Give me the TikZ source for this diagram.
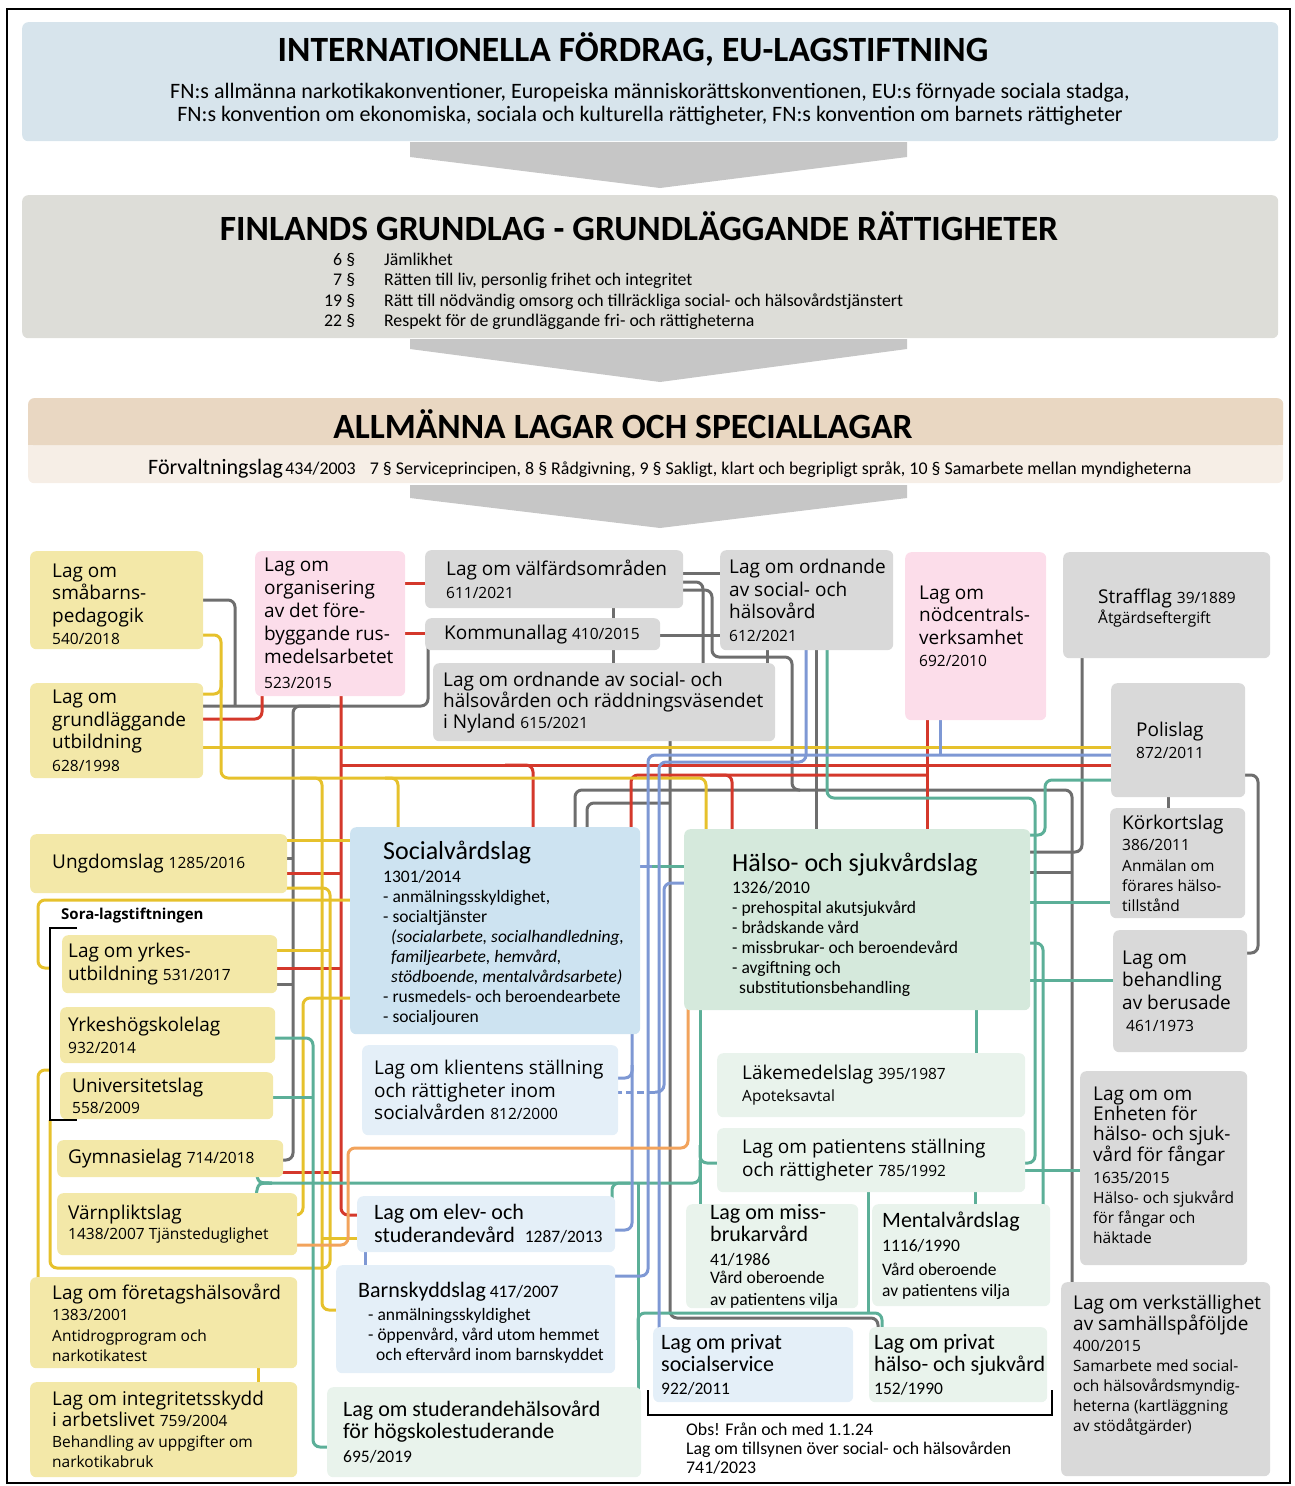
\documentclass[tikz,border=0pt]{standalone}
\usepackage{fontspec}
\setmainfont{Carlito}
\newfontfamily\osans{Open Sans}
\usepackage{tikz}
\usetikzlibrary{backgrounds}

\definecolor{intlblue}{HTML}{D7E4EC}
\definecolor{grundgray}{HTML}{DDDDD8}
\definecolor{allmtan}{HTML}{E9D7C2}
\definecolor{allmlight}{HTML}{F6EEE6}
\definecolor{pilgray}{HTML}{C6C6C6}
\definecolor{yfill}{HTML}{F3E8A8}
\definecolor{pfill}{HTML}{FCDDEA}
\definecolor{gfill}{HTML}{D9D9D9}
\definecolor{bfill}{HTML}{CDE3F1}
\definecolor{blight}{HTML}{E4EFF8}
\definecolor{hfill}{HTML}{D5E9DC}
\definecolor{hlight}{HTML}{E9F3EC}
\definecolor{lyel}{HTML}{E6C12C}
\definecolor{lred}{HTML}{D4382B}
\definecolor{lgry}{HTML}{6E6E6E}
\definecolor{lblu}{HTML}{7E98D4}
\definecolor{ltea}{HTML}{5CAF98}
\definecolor{lora}{HTML}{F2A35C}

\newcommand{\sm}{\fontsize{15.5}{20}\selectfont}
\newcommand{\md}{\fontsize{17.5}{20}\selectfont}
\newcommand{\ttl}{\fontsize{35.5}{40}\selectfont\bfseries}

\begin{document}
\begin{tikzpicture}[
    x=1pt, y=-1pt,
    law/.style={rectangle, rounded corners=6pt, anchor=north west, inner sep=0pt},
    sz/.style 2 args={minimum width=#1, minimum height=#2},
    ybox/.style={law, fill=yfill},
    pbox/.style={law, fill=pfill},
    gbox/.style={law, fill=gfill},
    bbox/.style={law, fill=blight},
    hbox/.style={law, fill=hlight},
    otxt/.style={anchor=west, align=flush left, inner sep=0pt, font=\osans\fontsize{19}{22.5}\selectfont},
    ctxt/.style={anchor=west, align=flush left, inner sep=0pt, font=\fontsize{22}{22}\selectfont},
    headbox/.style={rectangle, rounded corners=6pt, anchor=north west, inner sep=0pt},
    link/.style={line width=3pt, rounded corners=7pt},
    yl/.style={link, draw=lyel},
    rl/.style={link, draw=lred},
    gl/.style={link, draw=lgry},
    bl/.style={link, draw=lblu},
    tl/.style={link, draw=ltea},
    ol/.style={link, draw=lora},
]
    \useasboundingbox (0,0) rectangle (1295,1486);

    % three levels on top
    \node[headbox, fill=intlblue, sz={1256}{119}] (intl) at (22,22) {};
    \node[font=\ttl] (intlT) at (633,49) {INTERNATIONELLA FÖRDRAG, EU-LAGSTIFTNING};
    \node[font=\fontsize{22}{23}\selectfont, align=center] (intlS) at (650,104) {FN:s allmänna narkotikakonventioner, Europeiska människorättskonventionen, EU:s förnyade sociala stadga,\\FN:s konvention om ekonomiska, sociala och kulturella rättigheter, FN:s konvention om barnets rättigheter};
    \fill[pilgray] (410,142) -- (907,142) -- (907,157) -- (660,188) -- (410,157) -- cycle;

    \node[headbox, fill=grundgray, sz={1256}{143}] (grl) at (22,195) {};
    \node[font=\ttl] (grlT) at (639,226) {FINLANDS GRUNDLAG - GRUNDLÄGGANDE RÄTTIGHETER};
    \node[anchor=north west, inner sep=0pt, font=\fontsize{17.8}{20.3}\selectfont] (grlL) at (324,251) {\begin{tabular}{@{}r@{\hspace{29pt}}l@{}}
        6 § & Jämlikhet\\
        7 § & Rätten till liv, personlig frihet och integritet\\
        19 § & Rätt till nödvändig omsorg och tillräckliga social- och hälsovårdstjänstert\\
        22 § & Respekt för de grundläggande fri- och rättigheterna
    \end{tabular}};
    \fill[pilgray] (410,339) -- (907,339) -- (907,349) -- (660,382) -- (410,349) -- cycle;

    \node[headbox, fill=allmlight, sz={1255}{85}] (allm) at (28,398) {};
    \node[headbox, fill=allmtan, sz={1255}{47}] (allmH) at (28,398) {};
    \fill[allmtan] (28,430) rectangle (1283,445);
    \node[font=\ttl] (allmT) at (623,424) {ALLMÄNNA LAGAR OCH SPECIALLAGAR};
    \node[anchor=base west, inner sep=0pt] (forv) at (148,474) {{\fontsize{22}{24}\selectfont Förvaltningslag} {\fontsize{17.9}{20}\selectfont 434/2003\hspace{14pt}7 § Serviceprincipen, 8 § Rådgivning, 9 § Sakligt, klart och begripligt språk, 10 § Samarbete mellan myndigheterna}};
    \fill[pilgray] (410,485) -- (907,485) -- (907,498) -- (660,528) -- (410,498) -- cycle;

    % yellow column
    \node[ybox, sz={173}{98}] (smab) at (30,551) {};
    \node[otxt] (smabT) at ([xshift=22, yshift=-4]smab.west) {Lag om\\småbarns-\\pedagogik\\\sm 540/2018};
    \node[ybox, sz={173}{95}] (grund) at (30,683) {};
    \node[otxt] (grundT) at ([xshift=22]grund.west) {Lag om\\grundläggande\\utbildning\\\sm 628/1998};
    \node[ybox, sz={257}{59}] (ungd) at (30,834) {};
    \node[otxt] (ungdT) at ([xshift=22]ungd.west) {Ungdomslag {\sm 1285/2016}};
    \node[ybox, sz={215}{58}] (yrkes) at (62,935) {};
    \node[otxt] (yrkesT) at ([xshift=6]yrkes.west) {Lag om yrkes-\\utbildning {\sm 531/2017}};
    \node[ybox, sz={215}{56}] (yhs) at (60,1007) {};
    \node[otxt] (yhsT) at ([xshift=8]yhs.west) {Yrkeshögskolelag\\\sm 932/2014};
    \node[ybox, sz={213}{47}] (univ) at (60,1072) {};
    \node[otxt] (univT) at ([xshift=12]univ.west) {Universitetslag\\[-2pt]\sm 558/2009};
    \node[ybox, sz={226}{37}] (gymn) at (57,1140) {};
    \node[otxt] (gymnT) at ([xshift=11]gymn.west) {Gymnasielag {\sm 714/2018}};
    \node[ybox, sz={240}{62}] (varn) at (57,1193) {};
    \node[otxt] (varnT) at ([xshift=11]varn.west) {Värnpliktslag\\[-2pt]\sm 1438/2007 Tjänsteduglighet};
    \node[ybox, sz={267}{91}] (foret) at (30,1277) {};
    \node[otxt] (foretT) at ([xshift=22]foret.west) {Lag om företagshälsovård\\[-1pt]\sm 1383/2001\\[-2pt]\sm Antidrogprogram och\\[-2.5pt]\sm narkotikatest};
    \node[ybox, sz={267}{95}] (integ) at (30,1382) {};
    \node[otxt] (integT) at ([xshift=22]integ.west) {Lag om integritetsskydd\\[-2pt]i arbetslivet {\sm 759/2004}\\[-1pt]\sm Behandling av uppgifter om\\[-2.5pt]\sm narkotikabruk};
    \node[anchor=west, inner sep=0pt, font=\osans\bfseries\fontsize{15}{18}\selectfont] (sora) at (61,916) {Sora-lagstiftningen};
    \draw[line width=1.5pt] (77,928) -- (50,928) -- (50,1120) -- (77,1120);
    \coordinate (soraM) at (50,968);
    \coordinate (soraC) at (50,1070);
    \coordinate (soraB) at (50,1120);

    % pink and grey boxes
    \node[pbox, sz={150}{145}] (orgn) at (255,551) {};
    \node[otxt, font=\osans\fontsize{19}{23}\selectfont] (orgnT) at ([xshift=9]orgn.west) {Lag om\\organisering\\av det före-\\byggande rus-\\medelsarbetet\\[2pt]\sm 523/2015};
    \node[pbox, sz={141}{168}] (nodc) at (905,552) {};
    \node[otxt] (nodcT) at ([xshift=14, yshift=10]nodc.west) {Lag om\\nödcentrals-\\verksamhet\\\sm 692/2010};
    \node[gbox, sz={258}{58}] (valf) at (425,550) {};
    \node[otxt] (valfT) at ([xshift=21]valf.west) {Lag om välfärdsområden\\\sm 611/2021};
    \node[gbox, sz={235}{32}] (komm) at (425,618) {};
    \node[otxt] (kommT) at ([xshift=19]komm.west) {Kommunallag {\sm 410/2015}};
    \node[gbox, sz={173}{100}] (ordn) at (720,550) {};
    \node[otxt] (ordnT) at ([xshift=9]ordn.west) {Lag om ordnande\\av social- och\\hälsovård\\\sm 612/2021};
    \node[gbox, sz={342}{78}] (nyla) at (433,663) {};
    \node[otxt, font=\osans\fontsize{19}{21}\selectfont] (nylaT) at ([xshift=10]nyla.west) {Lag om ordnande av social- och\\hälsovården och räddningsväsendet\\i Nyland {\sm 615/2021}};
    \node[gbox, sz={207}{106}] (straf) at (1063,552) {};
    \node[otxt] (strafT) at ([xshift=35, yshift=-3]straf.west) {Strafflag {\sm 39/1889}\\[-3pt]\sm Åtgärdseftergift};
    \node[gbox, sz={134}{114}] (poli) at (1111,683) {};
    \node[otxt] (poliT) at ([xshift=25]poli.west) {Polislag\\\sm 872/2011};
    \node[gbox, sz={135}{110}] (kork) at (1110,808) {};
    \node[otxt] (korkT) at ([xshift=12]kork.west) {Körkortslag\\[-1.5pt]\sm 386/2011\\[-2pt]\sm Anmälan om\\[-2.5pt]\sm förares hälso-\\[-2.5pt]\sm tillstånd};
    \node[gbox, sz={134}{122}] (beru) at (1113,930) {};
    \node[otxt] (beruT) at ([xshift=9]beru.west) {Lag om\\behandling\\av berusade\\\sm\ 461/1973};
    \node[gbox, sz={167}{194}] (enhet) at (1080,1071) {};
    \node[otxt, font=\osans\fontsize{19}{20}\selectfont] (enhetT) at ([xshift=13, yshift=3]enhet.west) {Lag om om\\Enheten för\\hälso- och sjuk-\\vård för fångar\\[2pt]\sm 1635/2015\\\sm Hälso- och sjukvård\\\sm för fångar och\\\sm häktade};
    \node[gbox, sz={209}{194}] (verk) at (1061,1282) {};
    \node[otxt, font=\osans\fontsize{19}{20}\selectfont] (verkT) at ([xshift=12, yshift=14]verk.west) {Lag om verkställighet\\av samhällspåföljde\\[1pt]\sm 400/2015\\\sm Samarbete med social-\\\sm och hälsovårdsmyndig-\\\sm heterna (kartläggning\\\sm av stödåtgärder)};

    % social care side
    \node[bbox, fill=bfill, sz={290}{207}] (socv) at (350,827) {};
    \node[ctxt, font=\md] (socvT) at ([xshift=33, yshift=-3]socv.west) {{\fontsize{26}{26}\selectfont Socialvårdslag}\\[3pt]1301/2014\\- anmälningsskyldighet,\\- socialtjänster\\\hspace*{8pt}\textit{(socialarbete, socialhandledning,}\\\hspace*{8pt}\textit{familjearbete, hemvård,}\\\hspace*{8pt}\textit{stödboende, mentalvårdsarbete)}\\- rusmedels- och beroendearbete\\- socialjouren};
    \node[bbox, sz={256}{90}] (klie) at (362,1045) {};
    \node[otxt] (klieT) at ([xshift=12]klie.west) {Lag om klientens ställning\\och rättigheter inom\\socialvården {\sm 812/2000}};
    \node[bbox, sz={258}{56}] (elev) at (357,1196) {};
    \node[ctxt, font=\fontsize{22}{23}\selectfont] (elevT) at ([xshift=17]elev.west) {Lag om elev- och\\studerandevård\hspace{10pt}{\md 1287/2013}};
    \node[bbox, sz={279}{108}] (barn) at (336,1265) {};
    \node[ctxt, font=\md] (barnT) at ([xshift=22, yshift=-4]barn.west) {{\fontsize{22}{22}\selectfont Barnskyddslag} 417/2007\\[3pt]\hspace*{10pt}- anmälningsskyldighet\\\hspace*{10pt}- öppenvård, vård utom hemmet\\\hspace*{18pt}och eftervård inom barnskyddet};
    \node[bbox, sz={200}{75}] (pso) at (653,1327) {};
    \node[ctxt] (psoT) at ([xshift=8]pso.west) {Lag om privat\\socialservice\\[1pt]\md 922/2011};

    % health care side
    \node[hbox, fill=hfill, sz={346}{181}] (hsl) at (684,829) {};
    \node[ctxt, font=\md] (hslT) at ([xshift=48, yshift=-5]hsl.west) {{\fontsize{26}{26}\selectfont Hälso- och sjukvårdslag}\\[2pt]1326/2010\\- prehospital akutsjukvård\\- brådskande vård\\- missbrukar- och beroendevård\\- avgiftning och\\\hspace*{7pt}substitutionsbehandling};
    \node[hbox, sz={308}{64}] (lake) at (717,1053) {};
    \node[otxt] (lakeT) at ([xshift=25]lake.west) {Läkemedelslag {\sm 395/1987}\\[-1pt]\sm Apoteksavtal};
    \node[hbox, sz={308}{64}] (pati) at (717,1128) {};
    \node[otxt] (patiT) at ([xshift=25]pati.west) {Lag om patientens ställning\\och rättigheter {\sm 785/1992}};
    \node[hbox, sz={172}{104}] (miss) at (686,1204) {};
    \node[ctxt] (missT) at ([xshift=24]miss.west) {Lag om miss-\\brukarvård\\[2pt]\md 41/1986\\[-4pt]\md Vård oberoende\\\md av patientens vilja};
    \node[hbox, sz={178}{102}] (ment) at (872,1204) {};
    \node[ctxt] (mentT) at ([xshift=10]ment.west) {Mentalvårdslag\\[2pt]\md 1116/1990\\[2pt]\md Vård oberoende\\[-1pt]\md av patientens vilja};
    \node[hbox, sz={178}{75}] (psh) at (869,1327) {};
    \node[ctxt] (pshT) at ([xshift=5]psh.west) {Lag om privat\\hälso- och sjukvård\\[1pt]\md 152/1990};
    \node[hbox, sz={314}{90}] (stud) at (327,1387) {};
    \node[ctxt] (studT) at ([xshift=16]stud.west) {Lag om studerandehälsovård\\för högskolestuderande\\[2pt]\md 695/2019};

    \draw[line width=1.5pt] (648,1390) -- (648,1415) -- (1052,1415) -- (1052,1390);
    \node[anchor=north west, inner sep=0pt, align=left, font=\fontsize{17.8}{19}\selectfont] (obs) at (686,1423) {Obs! Från och med 1.1.24\\Lag om tillsynen över social- och hälsovården\\741/2023};

    \begin{pgfonlayer}{background}
    % grey lines
    \draw[gl] (smab.center |- 0,600) -- (235,600) -- (235,706);
    \draw[gl] (grund.center |- 0,706) -- (428,706) -- (komm.center -| 428,0);
    \draw[gl] (330,706) -| (293,1160) -- (gymn.center |- 0,1160);
    \draw[gl] (ungd.center |- 0,858) -- (293,858);
    \draw[gl] (yrkes.center |- 0,984) -- (293,984);
    \draw[gl] (valf.center |- 0,573) -- (ordn.center |- 0,573);
    \draw[gl] (valf.center -| 613,0) -- (nyla.center -| 613,0);
    \draw[gl] (komm.center |- 0,635) -- (ordn.center |- 0,635);
    \draw[gl] (valf.center |- 0,582) -- (703,582) -- (nyla.center -| 703,0);
    \draw[gl] (valf.center |- 0,590) -- (712,590) -- (712,657) -- (792,657) -- (792,790) -- (1072,790) -- (verk.center -| 1072,0);
    \draw[gl] (ordn.center -| 767,0) -- (767,668);
    \draw[gl] (ordn.center -| 816,0) -- (hsl.center -| 816,0);
    \draw[gl] (socv.center -| 575,0) -- (575,790) -- (800,790);
    \draw[gl] (nyla.center -| 670,0) -- (670,1318) -- (878,1318) -- (psh.center -| 878,0);
    \draw[gl] (socv.center -| 587,0) -- (587,803) -- (670,803);
    \draw[gl] (straf.center -| 1082,0) -- (1082,852) -- (hsl.center |- 0,852);
    \draw[gl] (hsl.center |- 0,872) -- (1072,872);
    \draw[gl] (poli.center |- 0,775) -- (1258,775) -- (1258,953) -- (beru.center |- 0,953);
    \draw[gl] (poli.center -| 1168,0) -- (kork.center -| 1168,0);

    % red lines
    \draw[rl] (orgn.center |- 0,583) -- (valf.center |- 0,583);
    \draw[rl] (orgn.center |- 0,633) -- (komm.center |- 0,633);
    \draw[rl] (grund.center |- 0,719) -- (262,719) -- (orgn.center -| 262,0);
    \draw[rl] (orgn.center -| 341,0) -- (341,1215) -- (elev.center |- 0,1215);
    \draw[rl] (341,765) -- (poli.center |- 0,765);
    \draw[rl] (505,765) -- (533,765) -- (socv.center -| 533,0);
    \draw[rl] (socv.center -| 631,0) -- (631,775) -- (927,775);
    \draw[rl] (nodc.center -| 927,0) -- (hsl.center -| 927,0);
    \draw[rl] (710,775) -- (732,775) -- (hsl.center -| 732,0);
    \draw[rl] (ungd.center |- 0,873) -- (341,873);
    \draw[rl] (yrkes.center |- 0,968) -- (341,968);
    \draw[rl] (gymn.center |- 0,1172) -- (341,1172);

    % yellow lines
    \draw[yl] (smab.center |- 0,635) -- (221,635) -- (221,694) -- (grund.center |- 0,694);
    \draw[yl] (221,680) -- (221,778) -- (706,778) -- (hsl.center -| 706,0);
    \draw[yl] (300,778) -- (322,778) -- (322,1310) -- (barn.center |- 0,1310);
    \draw[yl] (385,778) -- (398,778) -- (socv.center -| 398,0);
    \draw[yl] (322,1238) -- (elev.center |- 0,1238);
    \draw[yl] (grund.center |- 0,747) -- (poli.center |- 0,747);
    \draw[yl] (socv.center |- 0,840) -- (ungd.center |- 0,840);
    \draw[yl] (socv.center |- 0,900) -- (38,900) -- (38,968) -- (soraM);
    \draw[yl] (socv.center |- 0,998) -- (303,998) -- (303,1215) -- (varn.center |- 0,1215);
    \draw[yl] (ungd.center |- 0,888) -- (330,888) -- (330,1268) -- (50,1268) -- (soraB);
    \draw[yl] (yrkes.center |- 0,950) -- (330,950);
    \draw[yl] (foret.center -| 38,0) -- (38,1070) -- (soraC);
    \draw[yl] (foret.center -| 258,0) -- (integ.center -| 258,0);

    % teal lines
    \draw[tl] (ordn.center -| 827,0) -- (827,798) -- (1035,798) -- (1035,1163) -- (pati.center |- 0,1163);
    \draw[tl] (poli.center |- 0,780) -- (1045,780) -- (1045,835) -- (hsl.center |- 0,835);
    \draw[tl] (hsl.center |- 0,902) -- (kork.center |- 0,902);
    \draw[tl] (hsl.center |- 0,943) -- (1043,943) -- (ment.center -| 1043,0);
    \draw[tl] (hsl.center |- 0,980) -- (beru.center |- 0,980);
    \draw[tl] (pati.center |- 0,1170) -- (enhet.center |- 0,1170);
    \draw[tl] (652,866) -- (hsl.center |- 0,866);
    \draw[tl] (hsl.center -| 700,0) -- (miss.center -| 700,0);
    \draw[tl] (hsl.center -| 976,0) -- (lake.center -| 976,0);
    \draw[tl] (pati.center -| 975,0) -- (ment.center -| 975,0);
    \draw[tl] (700,1145) |- (pati.center |- 0,1163);
    \draw[tl] (700,1160) |- (262,1183);
    \draw[tl] (272,1183) .. controls (258,1183) .. (256,1170);
    \draw[tl] (272,1183) .. controls (258,1183) .. (256,1196);
    \draw[tl] (yhs.center |- 0,1038) -- (313,1038) -- (313,1447) -- (stud.center |- 0,1447);
    \draw[tl] (univ.center |- 0,1097) -- (313,1097);
    \draw[tl] (638,1183) -- (stud.center -| 638,0);
    \draw[tl] (638,1340) -- (638,1313) -- (882,1313) -- (psh.center -| 882,0);
    \draw[tl] (pati.center -| 868,0) -- (868,1313);
    \draw[tl] (elev.center -| 612,0) |- (630,1183);

    % blue lines
    \draw[bl] (socv.center |- 0,866) -- (652,866);
    \draw[bl] (poli.center |- 0,755) -- (648,755) -- (648,1276) -- (barn.center |- 0,1276);
    \draw[bl] (ordn.center -| 806,0) -- (806,762) -- (659,762) -- (pso.center -| 659,0);
    \draw[bl] (nodc.center -| 940,0) -- (940,755);
    \draw[bl] (socv.center -| 632,0) -- (632,1230) -- (elev.center |- 0,1230);
    \draw[bl] (632,1065) |- (klie.center |- 0,1078);
    \draw[bl] (hsl.center |- 0,883) -- (664,883) -- (664,1092) -- (655,1092);
    \draw[bl, dash pattern=on 7pt off 4pt] (655,1092) -- (klie.center |- 0,1092);
    \draw[bl] (elev.center -| 365,0) -- (barn.center -| 365,0);

    % orange line
    \draw[ol] (hsl.center -| 688,0) -- (688,1148) -- (348,1148) -- (348,1245) -- (varn.center |- 0,1245);
    \end{pgfonlayer}

    \draw[line width=1.3pt] (7,9) rectangle (1290,1483);
\end{tikzpicture}
\end{document}
